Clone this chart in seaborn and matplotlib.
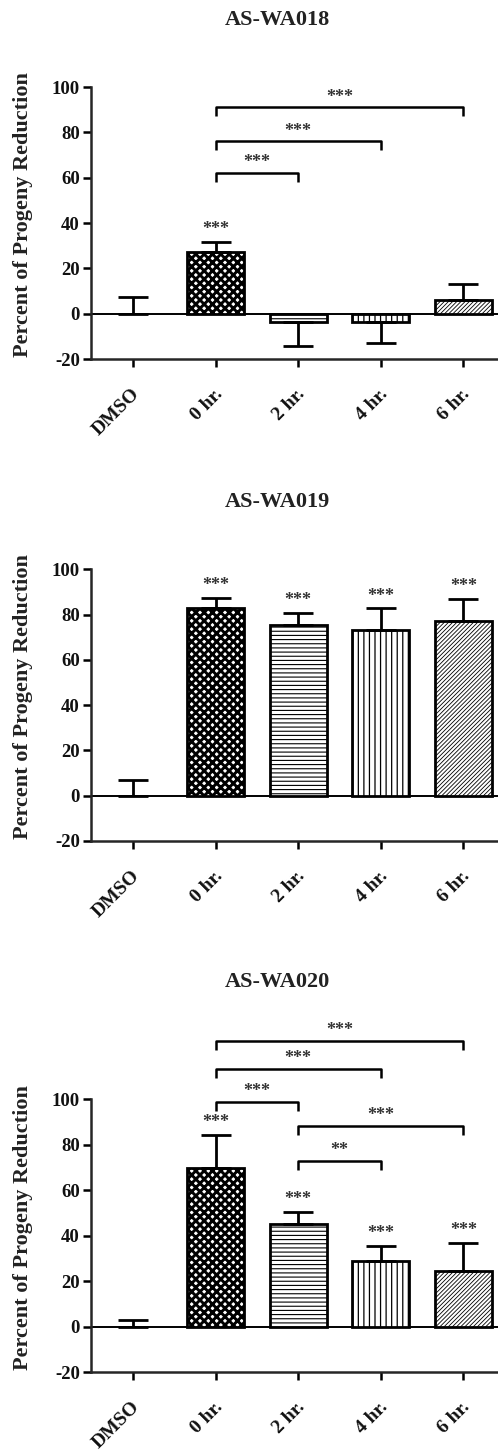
import matplotlib
matplotlib.use("Agg")
import matplotlib.pyplot as plt
import matplotlib.transforms as mtransforms
import seaborn as sns

# Treatment groups shared by all three compounds
groups = ["DMSO", "0 hr.", "2 hr.", "4 hr.", "6 hr."]

# AS-WA018
wa018_mean = [0, 27, -3.5, -3.5, 6]
wa018_sem = [7.5, 4.5, 10.8, 9.3, 7.2]
wa018_bar_sig = ["", "***", "", "", ""]
wa018_pairs = [(1, 2, 62, "***"), (1, 3, 76, "***"), (1, 4, 91, "***")]

# AS-WA019
wa019_mean = [0, 83, 75.5, 73, 77]
wa019_sem = [7, 4.5, 5.3, 9.7, 10]
wa019_bar_sig = ["", "***", "***", "***", "***"]
wa019_pairs = []

# AS-WA020
wa020_mean = [0, 70, 45, 29, 24.5]
wa020_sem = [2.8, 14.3, 5.5, 6.5, 12.3]
wa020_bar_sig = ["", "***", "***", "***", "***"]
wa020_pairs = [(1, 4, 125.6, "***"), (1, 3, 113.3, "***"), (1, 2, 99, "***"),
               (2, 4, 88.2, "***"), (2, 3, 72.8, "**")]

titles = ["AS-WA018", "AS-WA019", "AS-WA020"]
y_ticks = [-20, 0, 20, 40, 60, 80, 100]
hatches = [None, "xxxx", "----", "|||", "////////"]
hatch_lw = [1.0, 2.1, 0.8, 0.9, 0.6]

sns.set_style("ticks")
plt.rcParams["font.family"] = ["Liberation Serif", "DejaVu Serif"]
plt.rcParams["font.weight"] = "bold"
plt.rcParams["hatch.linewidth"] = 0.8

W, H = 498, 1450
fig = plt.figure(figsize=(W / 100, H / 100), dpi=100)

# axes boxes in pixels: (top of y=100, bottom of y=-20)
boxes = [(87, 359), (569.3, 841), (1099.3, 1372.3)]
title_y = [20, 501.7, 981.7]

panels = [
    (wa018_mean, wa018_sem, wa018_bar_sig, wa018_pairs),
    (wa019_mean, wa019_sem, wa019_bar_sig, wa019_pairs),
    (wa020_mean, wa020_sem, wa020_bar_sig, wa020_pairs),
]

LW = 1.8
ax_left = 91
for i, ((means, sems, bar_sig, pairs), (top, bot)) in enumerate(zip(panels, boxes)):
    ax = fig.add_axes([ax_left / W, 1 - bot / H, (W - ax_left) / W, (bot - top) / H])
    sns.barplot(x=groups, y=means, ax=ax, width=0.69, color="white",
                edgecolor="black", linewidth=2.0, errorbar=None, saturation=1)
    for patch, h, hl, m in zip(ax.patches, hatches, hatch_lw, means):
        if m == 0:
            patch.set_linewidth(0)
        if h:
            patch.set_hatch(h)
            if hasattr(patch, "set_hatch_linewidth"):
                patch.set_hatch_linewidth(hl)

    # one-sided error bars in the direction of each bar
    for x, (m, s) in enumerate(zip(means, sems)):
        lo, hi = (s, 0) if m < 0 else (0, s)
        ax.errorbar(x, m, yerr=[[lo], [hi]], fmt="none", ecolor="black",
                    elinewidth=LW + 0.2, capsize=10.5, capthick=LW + 0.2, zorder=1)

    ax.axhline(0, color="black", lw=1.4, zorder=0.5)

    # significance over individual bars
    for x, (m, s, lab) in enumerate(zip(means, sems, bar_sig)):
        if lab:
            ax.text(x, m + s + 5.5, lab, ha="center", va="center",
                    fontsize=13, color="#333333", clip_on=False)

    # pairwise comparison brackets
    for x1, x2, y, lab in pairs:
        ax.plot([x1, x1, x2, x2], [y - 4, y, y, y - 4], color="black",
                lw=LW, clip_on=False, solid_capstyle="butt")
        ax.text((x1 + x2) / 2, y + 4.5, lab, ha="center", va="center",
                fontsize=13, color="#333333", clip_on=False)

    ax.set_xlim(-0.51, 4.42)
    ax.set_ylim(-20, 100)
    ax.set_yticks(y_ticks)
    ax.set_yticklabels([str(t) for t in y_ticks], fontsize=13.5, fontweight="bold")
    ax.set_xticks(range(len(groups)))
    ax.set_xticklabels(groups, fontsize=14, fontweight="bold", rotation=45,
                       ha="right", va="top", rotation_mode="anchor")
    ax.set_xlabel("")
    ax.set_ylabel("")
    sns.despine(ax=ax)
    for side in ["left", "bottom"]:
        ax.spines[side].set_linewidth(LW)
    ax.tick_params(axis="both", direction="out", length=6, width=LW, color="black",
                   labelcolor="#111111", pad=2)
    # push the slanted group labels down below their ticks
    offset = mtransforms.ScaledTranslation(-0.02, -0.15, fig.dpi_scale_trans)
    for lbl in ax.get_xticklabels():
        lbl.set_transform(lbl.get_transform() + offset)

    fig.text(277 / W, 1 - title_y[i] / H, titles[i], ha="center", va="center",
             fontsize=16, fontweight="bold", color="#222222")
    fig.text(23 / W, 1 - ((top + bot) / 2 - 8.5) / H, "Percent of Progeny Reduction",
             rotation=90, ha="center", va="center", fontsize=16,
             fontweight="bold", color="#222222")

fig.savefig("out.png", dpi=100, facecolor="white")
